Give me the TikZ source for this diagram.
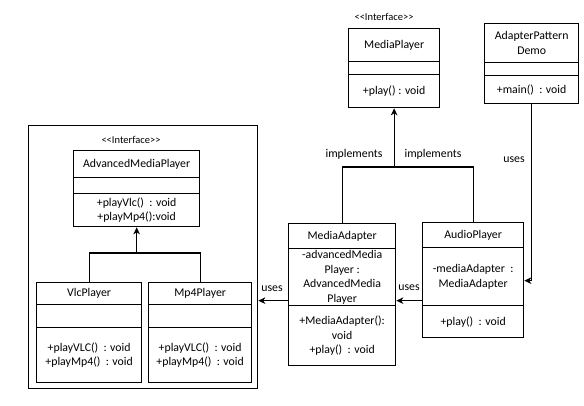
\documentclass[tikz,border=0pt]{standalone}
\usepackage{fontspec}
\setmainfont{Carlito}
\usetikzlibrary{arrows.meta}

\begin{document}
\begin{tikzpicture}[x=1pt,y=-1pt,
  part/.style={draw,line width=1.3pt,anchor=north west,align=center,inner sep=0pt,
    font=\fontsize{11.8}{14.5}\selectfont},
  lbl/.style={font=\fontsize{11.8}{14.5}\selectfont,inner sep=1pt},
  stereo/.style={font=\fontsize{10.5}{12}\selectfont,inner sep=1pt},
  link/.style={line width=1.3pt},
  head/.style={line width=1.3pt,-{Stealth[length=7pt,width=6.5pt,inset=2pt]}}]

\useasboundingbox (0,0) rectangle (584,406);

% MediaPlayer interface
\node[stereo] (mp-st) at (384,17) {{<}{<}Interface{>}{>}};
\node[part,minimum width=91pt,minimum height=33pt] (mp) at (348,28) {MediaPlayer};
\node[part,minimum width=91pt,minimum height=13pt] (mp-a) at (348,61) {};
\node[part,minimum width=91pt,minimum height=33pt] (mp-o) at (348,74) {+play() : void};

% AdapterPatternDemo
\node[part,minimum width=94pt,minimum height=39pt] (dm) at (484,23) {AdapterPattern\\Demo};
\node[part,minimum width=94pt,minimum height=13pt] (dm-a) at (484,62) {};
\node[part,minimum width=94pt,minimum height=28pt] (dm-o) at (484,75) {+main()\ \ : void};

% MediaAdapter
\node[part,minimum width=107pt,minimum height=25pt] (ma) at (288,223) {MediaAdapter};
\node[part,minimum width=107pt,minimum height=57pt] (ma-a) at (288,248) {-advancedMedia\\Player :\\AdvancedMedia\\Player};
\node[part,minimum width=107pt,minimum height=60pt] (ma-o) at (288,305) {+MediaAdapter():\\void\\+play()\ \ : void};

% AudioPlayer
\node[part,minimum width=101pt,minimum height=25pt] (ap) at (422,222) {AudioPlayer};
\node[part,minimum width=101pt,minimum height=58pt] (ap-a) at (422,247) {-mediaAdapter\ \ :\\MediaAdapter};
\node[part,minimum width=101pt,minimum height=32pt] (ap-o) at (422,305) {+play()\ \ : void};

% Group frame
\node[draw,line width=1.3pt,anchor=north west,minimum width=229pt,minimum height=263pt,inner sep=0pt] (grp) at (28,125) {};

% AdvancedMediaPlayer interface
\node[stereo] (amp-st) at (131,140) {{<}{<}Interface{>}{>}};
\node[part,minimum width=126pt,minimum height=27pt] (amp) at (73,150) {AdvancedMediaPlayer};
\node[part,minimum width=126pt,minimum height=16pt] (amp-a) at (73,177) {};
\node[part,minimum width=126pt,minimum height=33pt] (amp-o) at (73,193) {+playVlc()\ \ : void\\+playMp4():void};

% VlcPlayer
\node[part,minimum width=105pt,minimum height=22pt] (vp) at (36,282) {VlcPlayer};
\node[part,minimum width=105pt,minimum height=23pt] (vp-a) at (36,304) {};
\node[part,minimum width=105pt,minimum height=55pt] (vp-o) at (36,327) {+playVLC()\ \ : void\\+playMp4()\ \ : void};

% Mp4Player
\node[part,minimum width=103pt,minimum height=22pt] (m4) at (148,282) {Mp4Player};
\node[part,minimum width=103pt,minimum height=23pt] (m4-a) at (148,304) {};
\node[part,minimum width=103pt,minimum height=55pt] (m4-o) at (148,327) {+playVLC()\ \ : void\\+playMp4()\ \ : void};

% implements MediaPlayer
\coordinate (mpj) at (mp-o.south |- 0,167);
\draw[link] (ma.north) |- (mpj);
\draw[link] (ap.north) |- (mpj);
\draw[head] (mpj) -- (mp-o.south);
\node[lbl] (im1) at (354,154) {implements};
\node[lbl] (im2) at (433,154) {implements};

% implements AdvancedMediaPlayer
\coordinate (ampj) at (amp-o.south |- 0,253);
\draw[link] (vp.north) |- (ampj);
\draw[link] (m4.north) |- (ampj);
\draw[head] (ampj) -- (amp-o.south);

% uses
\draw[head] (dm-o.south) |- ([yshift=-4pt]ap-a.east);
\node[lbl] (u1) at (514,160) {uses};
\draw[head] ([yshift=-24pt]ap-a.west) -- ([yshift=-24pt]ap-a.west -| ma-a.east);
\node[lbl] (u2) at (409,288) {uses};
\draw[head] ([yshift=-23.5pt]ma-a.west) -- ([yshift=-23.5pt]ma-a.west -| grp.east);
\node[lbl] (u3) at (272,289) {uses};

\end{tikzpicture}
\end{document}
